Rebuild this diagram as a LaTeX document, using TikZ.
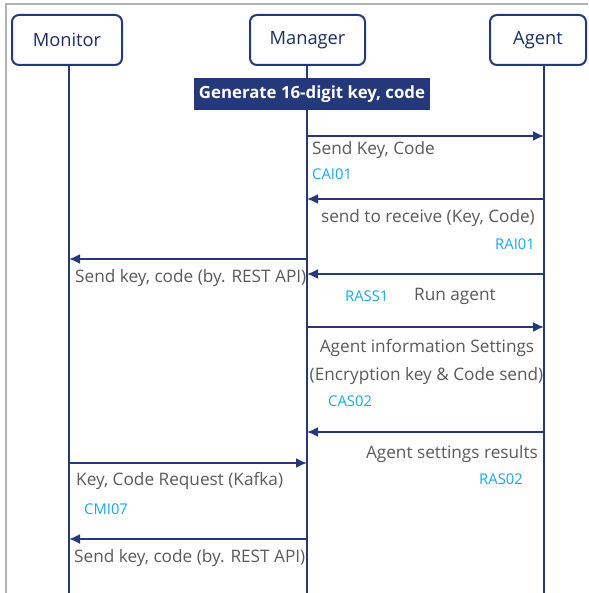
\documentclass[tikz,border=0pt]{standalone}
\usepackage{fontspec}
\setmainfont{Open Sans}
\usepackage{xcolor}
\usetikzlibrary{positioning,arrows.meta}
\definecolor{navy}{HTML}{24387A}
\definecolor{msggray}{HTML}{5A5A5A}
\definecolor{codeblue}{HTML}{1AA7EC}

\begin{document}
\begin{tikzpicture}[x=1pt,y=-1pt,
  actor/.style={draw=navy, line width=2pt, rounded corners=7pt, minimum height=50pt,
    text=navy!80!black, font=\fontsize{18.3}{21}\selectfont},
  lifeline/.style={navy, line width=1.8pt},
  msg/.style={navy, line width=1.8pt, -{Latex[length=11pt,width=10pt]}},
  msgtext/.style={text=msggray, inner sep=0pt, font=\fontsize{17.2}{20}\selectfont},
  codetext/.style={text=codeblue, inner sep=0pt, font=\fontsize{14.8}{18}\selectfont}]
\useasboundingbox (0,0) rectangle (588,593);
\draw[gray!60, line width=1.5pt] (6,593) -- (6,4) -- (588,4);

% actors
\node[actor, minimum width=110pt] (monitor) at (67,40) {Monitor};
\node[actor, minimum width=115pt] (manager) at (307.5,40) {Manager};
\node[actor, minimum width=96pt] (agent) at (538,40) {Agent};

% lifelines
\coordinate (monTop) at (69,65);   \coordinate (monEnd) at (69,593);
\coordinate (manTop) at (307,65);  \coordinate (manEnd) at (307,593);
\coordinate (ageTop) at (544,65);  \coordinate (ageEnd) at (544,593);
\draw[lifeline] (monTop) -- (monEnd);
\draw[lifeline] (manTop) -- (manEnd);
\draw[lifeline] (ageTop) -- (ageEnd);

\node[fill=navy, text=white, minimum width=236pt, minimum height=32pt, inner sep=0pt,
  font=\bfseries\fontsize{16.8}{20}\selectfont] (gen) at (312,94) {Generate 16-digit key, code};

% messages
\coordinate (man1) at (307,136); \coordinate (age1) at (544,136);
\coordinate (age2) at (544,199); \coordinate (man2) at (307,199);
\coordinate (man3) at (307,259); \coordinate (mon3) at (69,259);
\coordinate (age4) at (544,274); \coordinate (man4) at (307,274);
\coordinate (man5) at (307,327); \coordinate (age5) at (544,327);
\coordinate (age6) at (544,432); \coordinate (man6) at (307,432);
\coordinate (mon7) at (69,463);  \coordinate (man7) at (307,463);
\coordinate (man8) at (307,539); \coordinate (mon8) at (69,539);
\draw[msg] (man1) -- (age1);
\draw[msg] (age2) -- (man2);
\draw[msg] (man3) -- (mon3);
\draw[msg] (age4) -- (man4);
\draw[msg] (man5) -- (age5);
\draw[msg] (age6) -- (man6);
\draw[msg] (mon7) -- (man7);
\draw[msg] (man8) -- (mon8);

% labels
\node[msgtext, anchor=west] (t1) at (312,150) {Send Key, Code};
\node[codetext, anchor=west] (c1) at (312,174) {CAI01};
\node[msgtext, anchor=east] (t2) at (535,218) {send to receive (Key, Code)};
\node[codetext, anchor=east] (c2) at (535,244) {RAI01};
\node[msgtext, anchor=west] (t3) at (75,278) {Send key, code (by. REST API)};
\node[codetext, anchor=west] (c4) at (345,296) {RASS1};
\node[msgtext, anchor=west] (t4) at (414,296) {Run agent};
\node[msgtext] (t5) at (427,348) {Agent information Settings};
\node[msgtext] (t5b) at (426.5,376) {(Encryption key \& Code send)};
\node[codetext, anchor=west] (c5) at (328,401) {CAS02};
\node[msgtext, anchor=east] (t6) at (538,454) {Agent settings results};
\node[codetext, anchor=east] (c6) at (523,479) {RAS02};
\node[msgtext, anchor=west] (t7) at (76,481) {Key, Code Request (Kafka)};
\node[codetext, anchor=west] (c7) at (84,509) {CMI07};
\node[msgtext, anchor=west] (t8) at (74,558) {Send key, code (by. REST API)};
\end{tikzpicture}
\end{document}
